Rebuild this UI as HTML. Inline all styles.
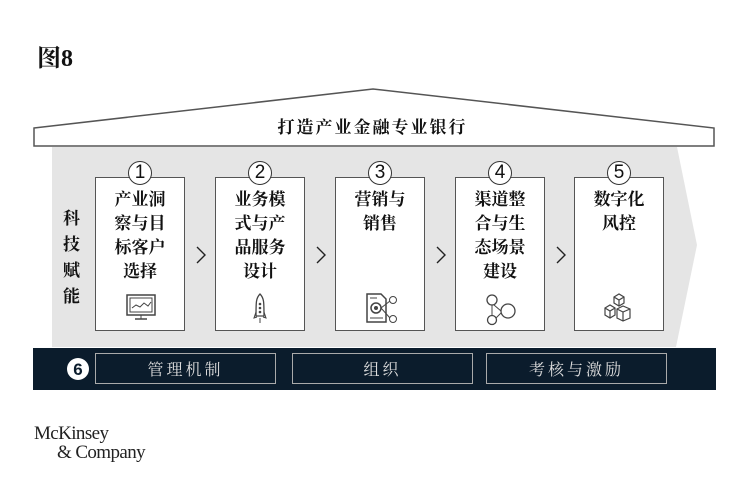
<!DOCTYPE html>
<html><head><meta charset="utf-8">
<style>
body{margin:0;width:745px;height:482px;background:#fff;position:relative;overflow:hidden;font-family:"Liberation Serif","Noto Serif CJK SC",serif;}
.cj{font-family:"Liberation Serif","Noto Serif CJK SC",serif;font-weight:bold;color:#111;}
.box{position:absolute;top:177px;width:90px;height:154px;border:1.5px solid #555;background:#fff;box-sizing:border-box;text-align:center;font-size:17px;line-height:24px;padding-top:10px;}
.num{position:absolute;top:161px;width:22px;height:22px;border:1.5px solid #333;border-radius:50%;background:#fff;text-align:center;font:19px/22px "Liberation Sans",sans-serif;color:#111;}
.chev{position:absolute;top:245px;}
.ic{position:absolute;top:292px;}
.mb{position:absolute;top:353px;height:31px;border:1.5px solid #aaa;box-sizing:border-box;color:#ddd;font-family:"Liberation Serif","Noto Serif CJK SC",serif;font-size:16px;display:flex;align-items:center;justify-content:center;letter-spacing:3px;}
</style></head><body>
<div class="cj" style="position:absolute;left:37px;top:38px;font-size:24px;">图8</div>
<svg style="position:absolute;left:0;top:0" width="745" height="482">
<polygon points="34,128 373,89 714,128 714,146 34,146" fill="#fff" stroke="#555" stroke-width="1.5"/>
<polygon points="52,147 677,147 697,245 676,347 52,347" fill="#e5e5e5"/>
<rect x="33" y="348" width="683" height="42" fill="#0b1c2c"/>
<circle cx="78" cy="369" r="11" fill="#fff"/>
<text x="78" y="375" text-anchor="middle" font-family="Liberation Sans" font-size="17" font-weight="bold" fill="#0b1c2c">6</text>
</svg>
<div class="cj" style="position:absolute;left:0;width:745px;top:113px;text-align:center;font-size:17px;letter-spacing:2px;">打造产业金融专业银行</div>
<div class="cj" style="position:absolute;left:63px;top:206px;width:20px;font-size:17px;line-height:26px;">科<br>技<br>赋<br>能</div>

<div class="box cj" style="left:95px">产业洞<br>察与目<br>标客户<br>选择</div>
<div class="box cj" style="left:215px">业务模<br>式与产<br>品服务<br>设计</div>
<div class="box cj" style="left:335px">营销与<br>销售</div>
<div class="box cj" style="left:455px">渠道整<br>合与生<br>态场景<br>建设</div>
<div class="box cj" style="left:574px">数字化<br>风控</div>
<div class="num" style="left:128px">1</div>
<div class="num" style="left:248px">2</div>
<div class="num" style="left:368px">3</div>
<div class="num" style="left:488px">4</div>
<div class="num" style="left:607px">5</div>
<svg class="chev" style="left:195px" width="12" height="20"><polyline points="2,2 10,10 2,18" fill="none" stroke="#222" stroke-width="1.4"/></svg>
<svg class="chev" style="left:315px" width="12" height="20"><polyline points="2,2 10,10 2,18" fill="none" stroke="#222" stroke-width="1.4"/></svg>
<svg class="chev" style="left:435px" width="12" height="20"><polyline points="2,2 10,10 2,18" fill="none" stroke="#222" stroke-width="1.4"/></svg>
<svg class="chev" style="left:555px" width="12" height="20"><polyline points="2,2 10,10 2,18" fill="none" stroke="#222" stroke-width="1.4"/></svg>

<svg class="ic" style="left:124px" width="34" height="30"><rect x="3" y="3" width="28" height="20" fill="none" stroke="#444" stroke-width="1.5"/><rect x="6" y="6" width="22" height="14" fill="none" stroke="#444"/><polyline points="8,16 12,13 16,15 20,11 24,14 27,10" fill="none" stroke="#444"/><line x1="17" y1="23" x2="17" y2="27" stroke="#444"/><line x1="11" y1="27" x2="23" y2="27" stroke="#444" stroke-width="1.5"/></svg>
<svg class="ic" style="left:252px" width="16" height="34"><path d="M8,2 C12,6 12,10 12,24 L4,24 C4,10 4,6 8,2Z" fill="none" stroke="#444" stroke-width="1.3"/><circle cx="8" cy="12" r="1.3" fill="#444"/><circle cx="8" cy="16" r="1.3" fill="#444"/><circle cx="8" cy="20" r="1.3" fill="#444"/><path d="M4,20 L2,26 L5,25 M12,20 L14,26 L11,25" fill="none" stroke="#444"/><line x1="8" y1="26" x2="8" y2="31" stroke="#444"/></svg>
<svg class="ic" style="left:364px" width="36" height="34"><path d="M3,2 L17,2 L22,7 L22,30 L3,30Z" fill="none" stroke="#444" stroke-width="1.5"/><circle cx="12" cy="16" r="5" fill="none" stroke="#444" stroke-width="1.5"/><circle cx="12" cy="16" r="2" fill="#444"/><line x1="6" y1="26" x2="19" y2="26" stroke="#444"/><line x1="6" y1="6" x2="13" y2="6" stroke="#444"/><circle cx="29" cy="8" r="3.5" fill="none" stroke="#444"/><circle cx="29" cy="27" r="3.5" fill="none" stroke="#444"/><line x1="17" y1="16" x2="26" y2="9" stroke="#444"/><line x1="17" y1="16" x2="26" y2="26" stroke="#444"/></svg>
<svg class="ic" style="left:482px" width="36" height="34"><circle cx="10" cy="8" r="5" fill="none" stroke="#444" stroke-width="1.3"/><circle cx="26" cy="19" r="7" fill="none" stroke="#444" stroke-width="1.3"/><circle cx="10" cy="28" r="4.5" fill="none" stroke="#444" stroke-width="1.3"/><line x1="12" y1="13" x2="19" y2="19" stroke="#444"/><line x1="10" y1="13" x2="10" y2="23.5" stroke="#444"/><line x1="14" y1="26" x2="19" y2="21" stroke="#444"/></svg>
<svg class="ic" style="left:602px" width="34" height="32"><g fill="none" stroke="#444" stroke-width="1.2"><path d="M12,5 L17,2 L22,5 L22,11 L17,14 L12,11Z M12,5 L17,8 L22,5 M17,8 L17,14"/><path d="M3,16 L8,13 L13,16 L13,23 L8,26 L3,23Z M3,16 L8,19 L13,16 M8,19 L8,26"/><path d="M15,17 L21,14 L28,17 L28,26 L21,29 L15,26Z M15,17 L21,20 L28,17 M21,20 L21,29"/></g></svg>

<div class="mb" style="left:95px;width:181px">管理机制</div>
<div class="mb" style="left:292px;width:181px">组织</div>
<div class="mb" style="left:486px;width:181px">考核与激励</div>

<div style="position:absolute;left:34px;top:424px;font-family:'Liberation Serif',serif;font-size:19px;line-height:19px;color:#222;letter-spacing:-0.6px;">McKinsey<br><span style="padding-left:23px">&amp; Company</span></div>
</body></html>
